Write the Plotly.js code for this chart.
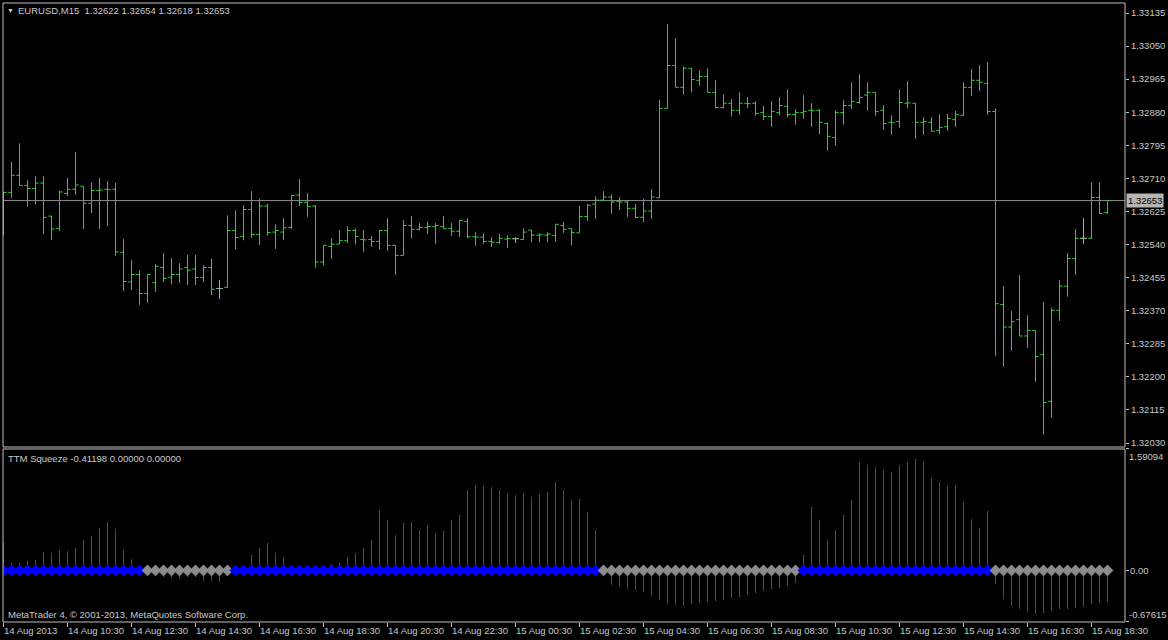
<!DOCTYPE html>
<html><head><meta charset="utf-8">
<script src="https://cdn.plot.ly/plotly-3.0.1.min.js"></script>
<style>html,body{margin:0;padding:0;background:#000;}#chart{width:1168px;height:640px;}</style>
</head><body><div id="chart"></div>
<script>
const symbol = "EURUSD,M15";
const indicatorName = "TTM Squeeze";
const footer = "MetaTrader 4, \u00a9 2001-2013, MetaQuotes Software Corp.";

const open = [1.32623,1.32674,1.32718,1.32692,1.32684,1.32698,1.32613,1.32581,1.32671,1.32682,
1.32690,1.32646,1.32679,1.32682,1.32682,1.32520,1.32444,1.32463,1.32414,1.32442,
1.32481,1.32456,1.32463,1.32481,1.32477,1.32455,1.32481,1.32427,1.32430,1.32576,
1.32561,1.32630,1.32566,1.32639,1.32572,1.32572,1.32584,1.32667,1.32648,1.32639,
1.32495,1.32535,1.32541,1.32550,1.32576,1.32553,1.32553,1.32548,1.32576,1.32538,
1.32512,1.32589,1.32579,1.32584,1.32586,1.32586,1.32581,1.32574,1.32599,1.32560,
1.32559,1.32548,1.32545,1.32554,1.32555,1.32553,1.32577,1.32564,1.32564,1.32563,
1.32589,1.32581,1.32570,1.32612,1.32644,1.32654,1.32662,1.32651,1.32649,1.32633,
1.32610,1.32626,1.32660,1.32890,1.33000,1.32944,1.32993,1.32962,1.32972,1.32931,
1.32892,1.32903,1.32885,1.32903,1.32903,1.32879,1.32869,1.32879,1.32895,1.32874,
1.32879,1.32885,1.32885,1.32851,1.32815,1.32879,1.32897,1.32905,1.32924,1.32931,
1.32885,1.32854,1.32856,1.32903,1.32903,1.32854,1.32854,1.32833,1.32843,1.32861,
1.32872,1.32944,1.32962,1.32954,1.32882,1.32386,1.32328,1.32347,1.32305,1.32319,
1.32257,1.32137,1.32371,1.32433,1.32504,1.32556,1.32556,1.32661,1.32622];
const high = [1.32675,1.32752,1.32800,1.32705,1.32716,1.32716,1.32614,1.32678,1.32711,1.32777,
1.32690,1.32699,1.32711,1.32703,1.32698,1.32554,1.32500,1.32474,1.32463,1.32490,
1.32518,1.32505,1.32492,1.32513,1.32513,1.32487,1.32504,1.32448,1.32615,1.32628,
1.32641,1.32677,1.32657,1.32645,1.32592,1.32608,1.32667,1.32708,1.32672,1.32641,
1.32538,1.32556,1.32577,1.32587,1.32581,1.32577,1.32562,1.32577,1.32608,1.32538,
1.32603,1.32613,1.32595,1.32599,1.32595,1.32613,1.32595,1.32603,1.32608,1.32572,
1.32569,1.32559,1.32567,1.32564,1.32558,1.32582,1.32577,1.32569,1.32572,1.32592,
1.32598,1.32581,1.32639,1.32644,1.32664,1.32677,1.32669,1.32662,1.32654,1.32644,
1.32657,1.32682,1.32912,1.33106,1.33070,1.32998,1.32993,1.32987,1.32993,1.32962,
1.32926,1.32913,1.32931,1.32919,1.32908,1.32896,1.32908,1.32919,1.32939,1.32888,
1.32924,1.32903,1.32888,1.32854,1.32885,1.32911,1.32957,1.32978,1.32957,1.32931,
1.32898,1.32872,1.32939,1.32960,1.32903,1.32867,1.32867,1.32875,1.32875,1.32883,
1.32957,1.32991,1.33001,1.33009,1.32890,1.32433,1.32369,1.32461,1.32358,1.32319,
1.32392,1.32378,1.32448,1.32518,1.32580,1.32608,1.32700,1.32700,1.32654];
const low = [1.32564,1.32660,1.32692,1.32637,1.32643,1.32567,1.32552,1.32575,1.32665,1.32668,
1.32580,1.32621,1.32580,1.32588,1.32511,1.32420,1.32423,1.32385,1.32390,1.32418,
1.32444,1.32438,1.32441,1.32436,1.32436,1.32444,1.32410,1.32400,1.32429,1.32528,
1.32551,1.32557,1.32539,1.32563,1.32529,1.32552,1.32579,1.32639,1.32611,1.32480,
1.32487,1.32503,1.32541,1.32544,1.32540,1.32521,1.32534,1.32528,1.32523,1.32462,
1.32512,1.32556,1.32576,1.32567,1.32542,1.32581,1.32562,1.32560,1.32556,1.32537,
1.32542,1.32534,1.32542,1.32531,1.32544,1.32552,1.32546,1.32546,1.32546,1.32547,
1.32570,1.32538,1.32570,1.32601,1.32606,1.32651,1.32619,1.32629,1.32611,1.32608,
1.32598,1.32606,1.32660,1.32890,1.32944,1.32925,1.32931,1.32948,1.32931,1.32890,
1.32890,1.32869,1.32874,1.32891,1.32871,1.32860,1.32842,1.32872,1.32867,1.32848,
1.32863,1.32842,1.32824,1.32781,1.32794,1.32848,1.32889,1.32902,1.32884,1.32871,
1.32835,1.32822,1.32840,1.32890,1.32812,1.32822,1.32830,1.32824,1.32832,1.32842,
1.32871,1.32922,1.32934,1.32874,1.32254,1.32226,1.32267,1.32305,1.32274,1.32187,
1.32052,1.32095,1.32344,1.32406,1.32462,1.32542,1.32554,1.32619,1.32618];
const close = [1.32674,1.32718,1.32692,1.32684,1.32698,1.32610,1.32580,1.32675,1.32682,1.32693,
1.32646,1.32679,1.32680,1.32681,1.32521,1.32445,1.32463,1.32414,1.32463,1.32484,
1.32453,1.32463,1.32477,1.32474,1.32455,1.32481,1.32425,1.32427,1.32576,1.32558,
1.32630,1.32566,1.32639,1.32571,1.32576,1.32583,1.32666,1.32648,1.32638,1.32495,
1.32538,1.32541,1.32550,1.32576,1.32561,1.32552,1.32548,1.32576,1.32538,1.32512,
1.32589,1.32579,1.32584,1.32586,1.32589,1.32581,1.32574,1.32602,1.32560,1.32559,
1.32548,1.32546,1.32556,1.32555,1.32555,1.32572,1.32564,1.32565,1.32567,1.32592,
1.32579,1.32571,1.32612,1.32641,1.32654,1.32662,1.32649,1.32649,1.32633,1.32610,
1.32626,1.32662,1.32890,1.33000,1.32944,1.32993,1.32964,1.32972,1.32931,1.32892,
1.32903,1.32885,1.32903,1.32902,1.32877,1.32869,1.32882,1.32897,1.32874,1.32879,
1.32882,1.32884,1.32854,1.32818,1.32879,1.32897,1.32908,1.32918,1.32931,1.32882,
1.32851,1.32853,1.32905,1.32904,1.32854,1.32856,1.32831,1.32841,1.32864,1.32874,
1.32944,1.32962,1.32957,1.32882,1.32388,1.32328,1.32342,1.32305,1.32319,1.32252,
1.32134,1.32371,1.32433,1.32504,1.32556,1.32556,1.32661,1.32620,1.32653];

// TTM Squeeze momentum histogram
const momentum = [0.363,0.101,0.098,0.127,0.136,0.245,0.228,0.271,0.254,0.298,
0.402,0.451,0.560,0.638,0.543,0.271,0.153,0.020,-0.010,-0.030,
-0.087,-0.096,-0.117,-0.083,-0.080,-0.135,-0.137,-0.148,-0.020,0.010,
0.030,0.20,0.29,0.36,0.23,0.18,0.07,0.06,0.05,0.06,
0.07,0.08,0.10,0.18,0.23,0.29,0.40,0.79,0.66,0.46,
0.62,0.63,0.53,0.59,0.49,0.52,0.66,0.73,1.05,1.12,
1.11,1.09,1.05,1.01,0.99,1.02,0.96,1.00,1.03,1.16,
1.06,0.92,0.93,0.77,0.53,-0.06,-0.19,-0.22,-0.24,-0.26,
-0.28,-0.34,-0.39,-0.44,-0.45,-0.46,-0.44,-0.43,-0.42,-0.40,
-0.39,-0.36,-0.35,-0.32,-0.30,-0.27,-0.25,-0.23,-0.20,-0.17,
0.20,0.83,0.66,0.40,0.53,0.73,0.92,1.42,1.38,1.36,
1.32,1.29,1.38,1.42,1.46,1.434,1.215,1.163,1.110,1.113,
0.900,0.674,0.562,0.782,-0.178,-0.375,-0.463,-0.502,-0.541,-0.567,
-0.554,-0.528,-0.510,-0.502,-0.493,-0.476,-0.436,-0.427,-0.41198];
// squeeze state per bar: 1 = off (blue), 0 = on (gray)
const squeeze = [1,1,1,1,1,1,1,1,1,1,1,1,1,1,1,1,1,1,0,0,
0,0,0,0,0,0,0,0,0,1,1,1,1,1,1,1,1,1,1,1,
1,1,1,1,1,1,1,1,1,1,1,1,1,1,1,1,1,1,1,1,
1,1,1,1,1,1,1,1,1,1,1,1,1,1,1,0,0,0,0,0,
0,0,0,0,0,0,0,0,0,0,0,0,0,0,0,0,0,0,0,0,
1,1,1,1,1,1,1,1,1,1,1,1,1,1,1,1,1,1,1,1,
1,1,1,1,0,0,0,0,0,0,0,0,0,0,0,0,0,0,0];

const priceTicks = [1.33135,1.33050,1.32965,1.32880,1.32795,1.32710,1.32625,1.32540,1.32455,1.32370,1.32285,1.32200,1.32115,1.32030];
const indTicks = [1.59094, 0, -0.67615];
const indTickText = ["1.59094", "0.00", "-0.67615"];
const tickTimes = ["2013.08.14 08:30","2013.08.14 10:30","2013.08.14 12:30","2013.08.14 14:30","2013.08.14 16:30","2013.08.14 18:30","2013.08.14 20:30","2013.08.14 22:30","2013.08.15 00:30","2013.08.15 02:30","2013.08.15 04:30","2013.08.15 06:30","2013.08.15 08:30","2013.08.15 10:30","2013.08.15 12:30","2013.08.15 14:30","2013.08.15 16:30","2013.08.15 18:30"];
const tickLabels = ["14 Aug 2013","14 Aug 10:30","14 Aug 12:30","14 Aug 14:30","14 Aug 16:30","14 Aug 18:30","14 Aug 20:30","14 Aug 22:30","15 Aug 00:30","15 Aug 02:30","15 Aug 04:30","15 Aug 06:30","15 Aug 08:30","15 Aug 10:30","15 Aug 12:30","15 Aug 14:30","15 Aug 16:30","15 Aug 18:30"];

// bar open times (M15), from the first bar of the window
const times = [];
(function(){
  const pad = n => (n < 10 ? "0" : "") + n;
  let t = Date.UTC(2013, 7, 14, 8, 30);
  for (let i = 0; i < open.length; i++) {
    const d = new Date(t);
    times.push(d.getUTCFullYear() + "." + pad(d.getUTCMonth()+1) + "." + pad(d.getUTCDate()) + " " + pad(d.getUTCHours()) + ":" + pad(d.getUTCMinutes()));
    t += 15 * 60000;
  }
})();

const GREEN_BAR = "#32cd32", DOJI = "#a8a8a8", TXT = "#c8c8c8", BORDER = "#c0c0c0";
const FONT = "Liberation Sans, Arial, sans-serif";
const last = close.length - 1;

const isDoji = open.map((o, i) => o === close[i]);
const dojiOf = arr => arr.map((v, i) => isDoji[i] ? v : null);

const histColors = momentum.map((v, i) => (i > 0 && v > momentum[i-1]) ? "#008800" : "#ff0000");
const dotColors = squeeze.map(s => s ? "#0000ff" : "#8c8c8c");

const traces = [
  {type: "ohlc", x: times, open: open, high: high, low: low, close: close,
   xaxis: "x", yaxis: "y", tickwidth: 0.4, hoverinfo: "skip",
   increasing: {line: {color: GREEN_BAR, width: 1}},
   decreasing: {line: {color: GREEN_BAR, width: 1}}},
  {type: "ohlc", x: times, open: dojiOf(open), high: dojiOf(high), low: dojiOf(low), close: dojiOf(close),
   xaxis: "x", yaxis: "y", tickwidth: 0.4, hoverinfo: "skip",
   increasing: {line: {color: DOJI, width: 1}},
   decreasing: {line: {color: DOJI, width: 1}}},
  {type: "bar", x: times, y: momentum, xaxis: "x", yaxis: "y2", width: 0.125,
   marker: {color: histColors, line: {width: 0}}, hoverinfo: "skip"},
  {type: "scatter", mode: "markers", x: times, y: momentum.map(() => 0), xaxis: "x", yaxis: "y2",
   marker: {symbol: "diamond", size: 9, color: dotColors, line: {width: 0}}, hoverinfo: "skip"}
];

const f = (size, color) => ({family: FONT, size: size, color: color || TXT});

const layout = {
  width: 1168, height: 640,
  margin: {l: 3, r: 43, t: 3, b: 18},
  paper_bgcolor: "#000", plot_bgcolor: "#000",
  showlegend: false, bargap: 0,
  xaxis: {type: "category", anchor: "y2", range: [-0.0625, 140.1875],
    tickvals: tickTimes, ticktext: tickLabels, ticks: "outside", ticklen: 4, tickcolor: BORDER,
    ticklabelposition: "outside right", tickangle: 0, tickfont: f(9.5),
    showgrid: false, zeroline: false, showline: false, rangeslider: {visible: false}, fixedrange: true},
  yaxis: {domain: [0.2827, 1], range: [1.320197, 1.331607], side: "right",
    tickvals: priceTicks, ticktext: priceTicks.map(v => v.toFixed(5)),
    ticks: "outside", ticklen: 3, tickcolor: BORDER, tickfont: f(9.5),
    showgrid: false, zeroline: false, showline: false, fixedrange: true},
  yaxis2: {domain: [0, 0.2795], range: [-0.67615, 1.59094], side: "right",
    tickvals: indTicks, showticklabels: false,
    ticks: "outside", ticklen: 3, tickcolor: BORDER,
    showgrid: false, zeroline: false, showline: false, fixedrange: true},
  shapes: [
    {type: "line", xref: "x domain", x0: 0, x1: 1, yref: "y", y0: close[last], y1: close[last],
     line: {color: "#8c8c8c", width: 1}, layer: "below"},
    {type: "rect", xref: "x domain", yref: "y domain", x0: 0, x1: 1, y0: 0, y1: 1,
     line: {color: BORDER, width: 1}, layer: "above"},
    {type: "rect", xref: "x domain", yref: "y2 domain", x0: 0, x1: 1, y0: 0, y1: 1,
     line: {color: BORDER, width: 1}, layer: "above"}
  ],
  annotations: [
    {xref: "paper", yref: "paper", x: 0, y: 1, xanchor: "left", yanchor: "middle", xshift: 2, yshift: -7,
     text: "\u25BC", showarrow: false, font: f(7)},
    {xref: "paper", yref: "paper", x: 0, y: 1, xanchor: "left", yanchor: "middle", xshift: 13, yshift: -7,
     text: symbol + "\u00a0\u00a0" + [open[last], high[last], low[last], close[last]].map(v => v.toFixed(5)).join("\u00a0"),
     showarrow: false, font: f(9.5)},
    {xref: "paper", yref: "y2 domain", x: 0, y: 1, xanchor: "left", yanchor: "middle", xshift: 3, yshift: -10,
     text: indicatorName + " " + momentum[last].toFixed(5) + " 0.00000 0.00000", showarrow: false, font: f(9.5)},
    {xref: "paper", yref: "y2 domain", x: 0, y: 0, xanchor: "left", yanchor: "middle", xshift: 3, yshift: 8,
     text: footer, showarrow: false, font: f(9.5)},
    {xref: "paper", yref: "y2 domain", x: 1, y: 1, xanchor: "left", yanchor: "middle", xshift: 2, yshift: -8,
     text: indTickText[0], showarrow: false, font: f(9.5)},
    {xref: "paper", yref: "y2", x: 1, y: indTicks[1], xanchor: "left", yanchor: "middle", xshift: 3,
     text: indTickText[1], showarrow: false, font: f(9.5)},
    {xref: "paper", yref: "y2 domain", x: 1, y: 0, xanchor: "left", yanchor: "middle", xshift: 2, yshift: 8,
     text: indTickText[2], showarrow: false, font: f(9.5)},
    {xref: "paper", yref: "y", x: 1, y: close[last], xanchor: "left", yanchor: "middle", xshift: 1,
     text: close[last].toFixed(5), showarrow: false, font: f(9.5, "#000"), bgcolor: "#b4b4b4", borderpad: 1}
  ]
};

Plotly.newPlot("chart", traces, layout, {staticPlot: true, displayModeBar: false});
</script>
</body></html>
